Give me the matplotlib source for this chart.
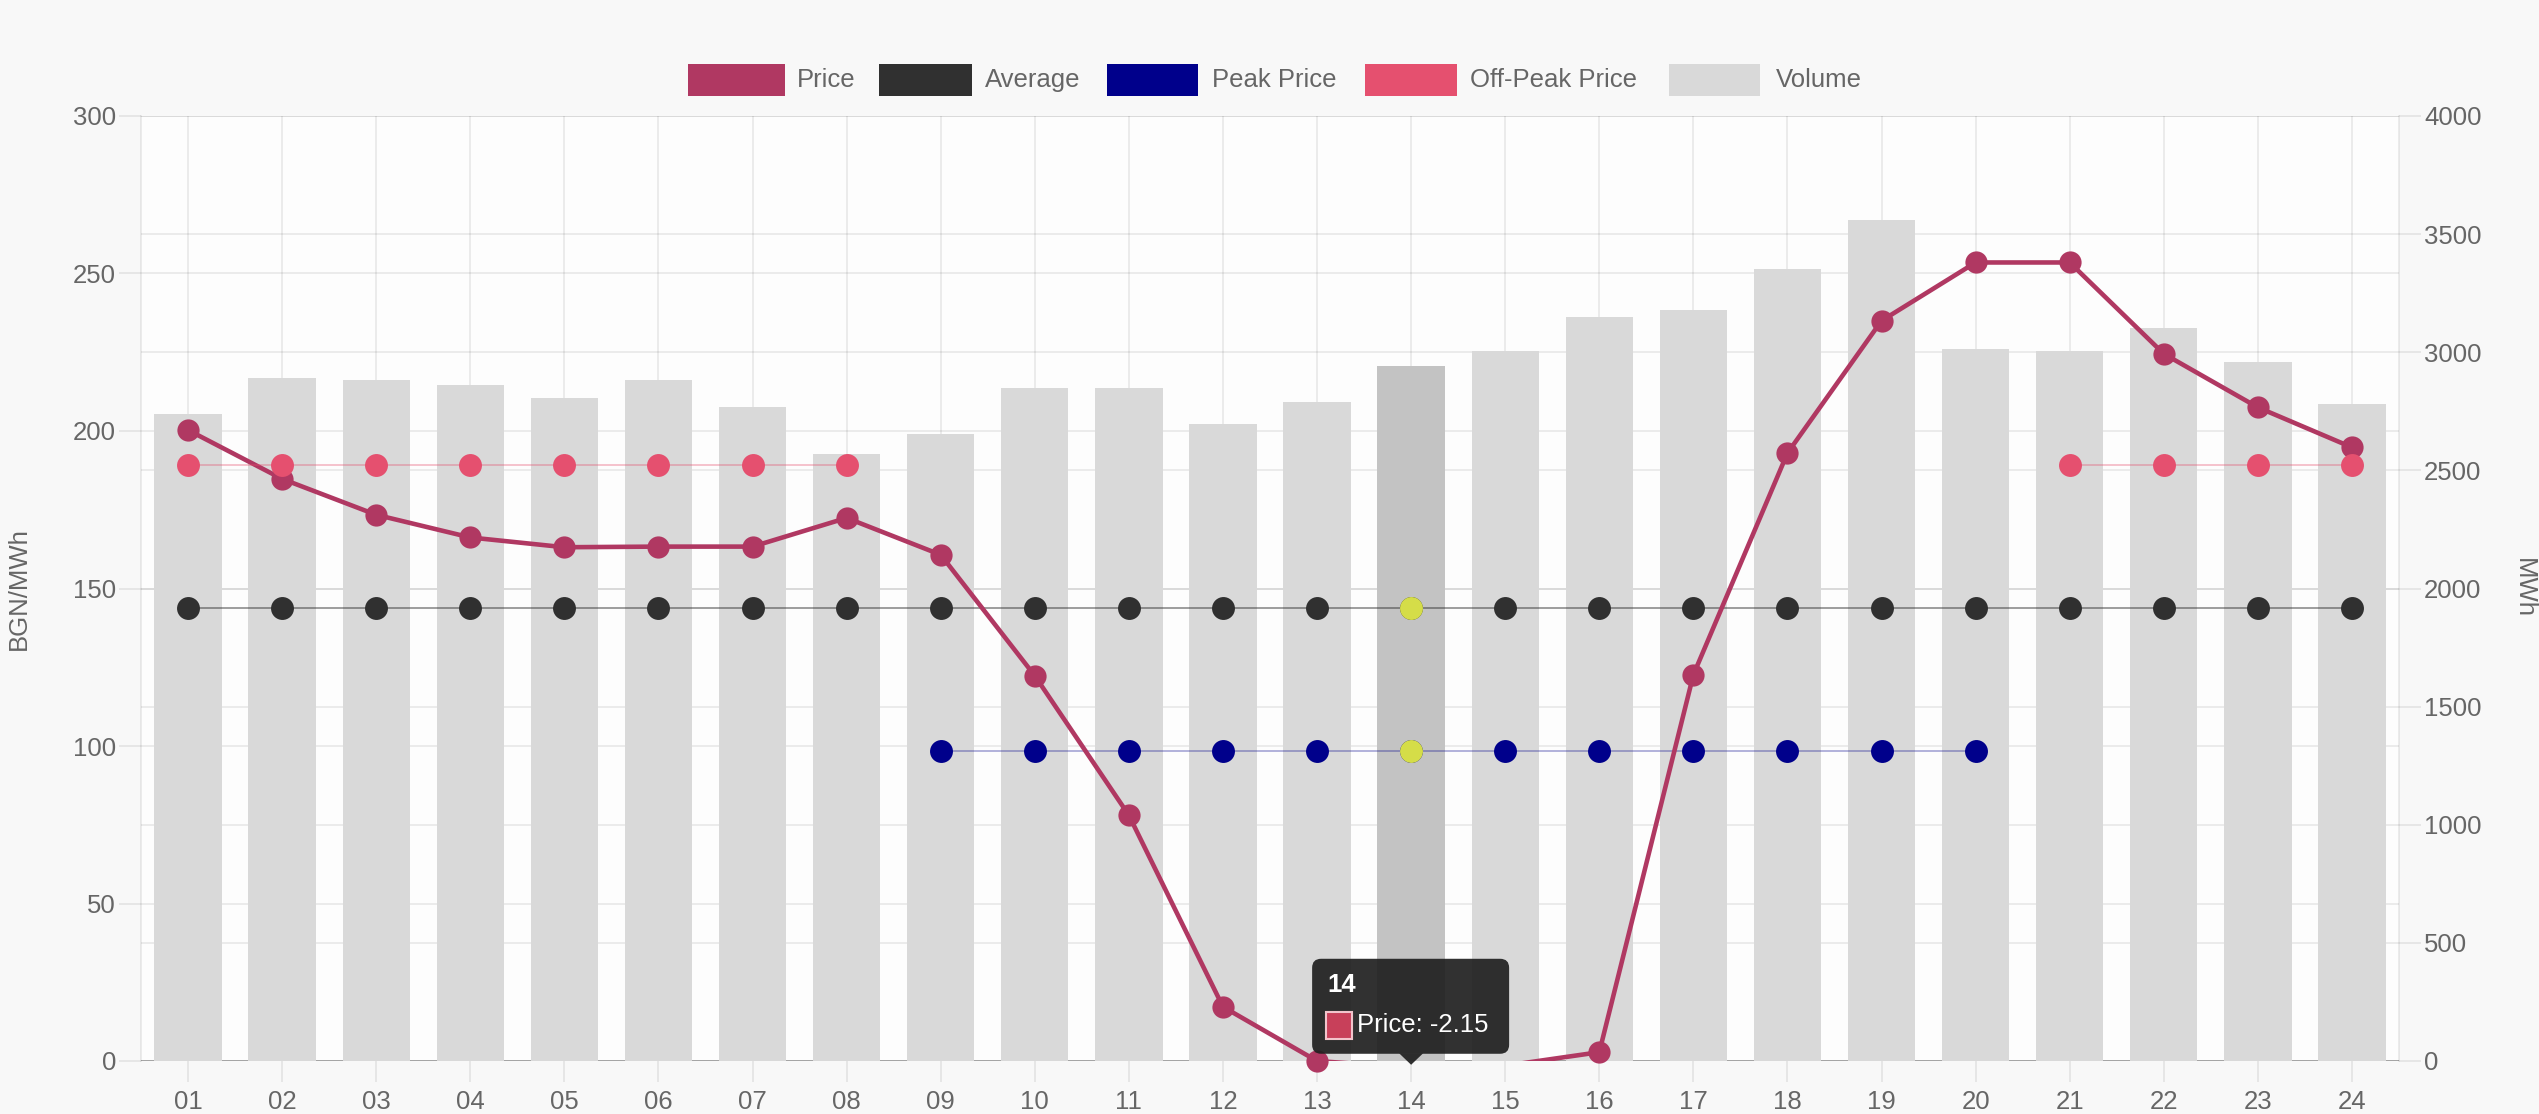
import numpy as np
import matplotlib
matplotlib.use("Agg")
import matplotlib.pyplot as plt
import matplotlib.transforms as mtransforms
from matplotlib.patches import Rectangle, FancyBboxPatch, Polygon

plt.rcParams['font.family'] = ['Liberation Sans', 'DejaVu Sans']

# ---- data -------------------------------------------------------------
hours = ["01", "02", "03", "04", "05", "06", "07", "08", "09", "10", "11", "12",
         "13", "14", "15", "16", "17", "18", "19", "20", "21", "22", "23", "24"]

price = [200.3, 184.8, 173.4, 166.2, 163.1, 163.3, 163.3, 172.4, 160.7, 122.3, 78.0, 17.2,
         0.0, -2.15, -1.5, 2.8, 122.6, 193.0, 235.0, 253.5, 253.5, 224.5, 207.5, 194.8]

average_price = 143.8
average = [average_price] * len(hours)

peak_price = 98.3
peak_hours = ["09", "10", "11", "12", "13", "14", "15", "16", "17", "18", "19", "20"]

offpeak_price = 189.2
offpeak_hours = ["01", "02", "03", "04", "05", "06", "07", "08", "21", "22", "23", "24"]

volume = [2739, 2891, 2881, 2861, 2808, 2881, 2768, 2571, 2653, 2850, 2850, 2698,
          2789, 2941, 3005, 3148, 3180, 3352, 3558, 3015, 3005, 3101, 2960, 2780]

price_ticks = [0, 50, 100, 150, 200, 250, 300]
volume_ticks = [0, 500, 1000, 1500, 2000, 2500, 3000, 3500, 4000]

active_hour = "14"

# ---- styling ----------------------------------------------------------
W, H = 2539, 1114
C_PRICE = "#b03862"
C_AVG = "#303030"
C_PEAK = "#00008b"
C_OFFPEAK = "#e5506f"
C_VOL = "#d9d9d9"
C_VOL_ACTIVE = "#c3c3c3"
C_HOVER = "#d5dd48"
GRID_A = 0.09
TXT = "#666666"
FS = 18.5

fig = plt.figure(figsize=(W / 100, H / 100), dpi=100, facecolor="#f8f8f8")

left, right, top, bottom = 141, 2399, 116, 1061
ax = fig.add_axes([left / W, (H - bottom) / H, (right - left) / W, (bottom - top) / H])
ax.set_facecolor("#fdfdfd")

x = np.arange(len(hours))
idx_active = hours.index(active_hour)

# volume axis (right side) holds the bars and all gridlines
ax.set_xlim(-0.5, len(hours) - 0.5)
ax.set_ylim(volume_ticks[0], volume_ticks[-1])
ax.set_yticks(volume_ticks)
ax.set_xticks(x)
ax.set_xticklabels(hours)
ax.set_axisbelow(True)
ax.grid(axis="both", color="black", alpha=GRID_A, linewidth=1.1)
for s in ["top", "bottom"]:
    ax.spines[s].set_visible(False)
for s in ["left", "right"]:
    ax.spines[s].set_color((0, 0, 0, GRID_A))
    ax.spines[s].set_linewidth(1.1)

bar_colors = [C_VOL_ACTIVE if i == idx_active else C_VOL for i in range(len(hours))]
ax.bar(x, volume, width=0.716, color=bar_colors, zorder=1)
ax.axhline(0, color="#a0a0a0", linewidth=1.3, zorder=0.8)

# price axis (left side) holds the lines
axp = ax.twinx()
axp.set_ylim(price_ticks[0], price_ticks[-1])
axp.yaxis.tick_left()
axp.yaxis.set_label_position("left")
axp.set_yticks(price_ticks)
axp.tick_params(axis="y", length=16, width=1.1, color=(0, 0, 0, GRID_A),
                labelsize=FS, labelcolor=TXT, pad=2, left=True, right=False)
for s in axp.spines.values():
    s.set_visible(False)
axp.set_ylabel("BGN/MWh", fontsize=FS, color=TXT, labelpad=30)

ax.yaxis.tick_right()
ax.yaxis.set_label_position("right")
ax.tick_params(axis="y", length=16, width=1.1, color=(0, 0, 0, GRID_A),
               labelsize=FS, labelcolor=TXT, pad=2, right=True, left=False)
ax.tick_params(axis="x", length=15, width=1.1, color=(0, 0, 0, GRID_A),
               labelsize=FS, labelcolor=TXT, pad=6)
ax.set_ylabel("MWh", fontsize=FS, color=TXT, rotation=-90, labelpad=22, va="bottom")

# price gridlines sit behind the bars, on the volume axes
blend = mtransforms.blended_transform_factory(ax.transAxes, axp.transData)
for v in price_ticks:
    ax.plot([0, 1], [v, v], transform=blend, color="black", alpha=GRID_A,
            linewidth=1.1, zorder=0.5)

# Average / Peak / Off-Peak level lines with point markers
def level_series(sel_hours, value):
    return [value if h in sel_hours else np.nan for h in hours]

peak = level_series(peak_hours, peak_price)
offpeak = level_series(offpeak_hours, offpeak_price)

MS = 16.5
axp.plot(x, average, color=C_AVG, alpha=0.55, linewidth=1.2, zorder=3)
axp.plot(x, average, "o", color=C_AVG, markersize=MS, markeredgewidth=0, zorder=3.1)
axp.plot(x, peak, color=C_PEAK, alpha=0.35, linewidth=1.2, zorder=3)
axp.plot(x, peak, "o", color=C_PEAK, markersize=MS, markeredgewidth=0, zorder=3.1)
axp.plot([x[idx_active]], [average[idx_active]], "o", color=C_HOVER, markersize=MS,
         markeredgewidth=0, zorder=3.2)
axp.plot([x[idx_active]], [peak[idx_active]], "o", color=C_HOVER, markersize=MS,
         markeredgewidth=0, zorder=3.2)

# Price line (points below the plot area are not marked)
py = np.array(price, dtype=float)
axp.plot(x, py, color=C_PRICE, linewidth=3.3, zorder=4,
         solid_joinstyle="round", solid_capstyle="round")
visible = py >= price_ticks[0]
axp.plot(x[visible], py[visible], "o", color=C_PRICE, markersize=MS - 0.5,
         markeredgewidth=0, zorder=4.1, clip_on=False)

axp.plot(x, offpeak, color=C_OFFPEAK, alpha=0.4, linewidth=1.2, zorder=5)
axp.plot(x, offpeak, "o", color=C_OFFPEAK, markersize=MS, markeredgewidth=0, zorder=5.1)

# ---- hover tooltip for the active hour --------------------------------
anchor = mtransforms.ScaledTranslation(x[idx_active], price[idx_active], axp.transData)
tt = mtransforms.Affine2D() + anchor   # offsets in pixels from the hovered point
box_col = (0.12, 0.12, 0.12, 0.92)
axp.add_patch(FancyBboxPatch((-99, 14), 197, 95, boxstyle="round,pad=0,rounding_size=9",
                             facecolor=box_col, edgecolor="none", transform=tt,
                             zorder=10, clip_on=False))
axp.add_patch(Polygon([(-12, 14.5), (12, 14.5), (0, 3)], closed=True, facecolor=box_col,
                      edgecolor="none", transform=tt, zorder=10, clip_on=False))
axp.text(-84, 83, active_hour, transform=tt, color="white", fontsize=18.5,
         fontweight="bold", va="center", ha="left", zorder=11, clip_on=False)
axp.add_patch(Rectangle((-85, 29), 26, 27, facecolor="#c8405a", edgecolor="#f2c4cc",
                        linewidth=1.5, transform=tt, zorder=11, clip_on=False))
axp.text(-54, 43, f"Price: {price[idx_active]:.2f}", transform=tt, color="white",
         fontsize=18.5, va="center", ha="left", zorder=11, clip_on=False)

# ---- legend -------------------------------------------------------------
def fx(v):
    return v / W

def fy(v):
    return 1 - v / H

legend_items = [
    ("Price", C_PRICE, 688, 785, 797),
    ("Average", C_AVG, 879, 972, 985),
    ("Peak Price", C_PEAK, 1107, 1198, 1212),
    ("Off-Peak Price", C_OFFPEAK, 1365, 1457, 1470),
    ("Volume", C_VOL, 1669, 1760, 1776),
]
for label, col, bx0, bx1, tx in legend_items:
    fig.add_artist(Rectangle((fx(bx0), fy(96)), fx(bx1 - bx0), 32 / H,
                             transform=fig.transFigure, facecolor=col, edgecolor="none"))
    fig.text(fx(tx), fy(80), label, fontsize=FS, color=TXT, va="center", ha="left")

fig.savefig("out.png", dpi=100, facecolor=fig.get_facecolor())
